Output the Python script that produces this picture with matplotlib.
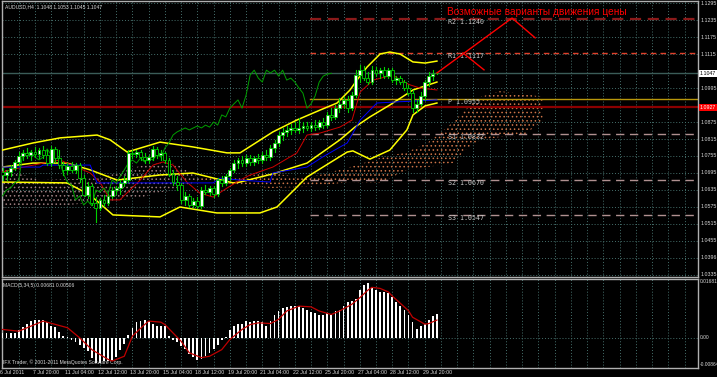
import numpy as np
import matplotlib
matplotlib.use("Agg")
from matplotlib import pyplot as plt

W, H = 717, 377

# ---- price bars (AUDUSD H4) ----
opens = [1.0699, 1.0688, 1.0699, 1.0713, 1.0734, 1.0755, 1.0766, 1.0759, 1.0769, 1.0762,
         1.0776, 1.0759, 1.0730, 1.0780, 1.0748, 1.0723, 1.0706, 1.0720, 1.0706, 1.0723,
         1.0677, 1.0617, 1.0649, 1.0589, 1.0572, 1.0600, 1.0589, 1.0614, 1.0635, 1.0642,
         1.0660, 1.0670, 1.0766, 1.0762, 1.0769, 1.0751, 1.0741, 1.0751, 1.0780, 1.0759,
         1.0766, 1.0741, 1.0692, 1.0663, 1.0653, 1.0600, 1.0614, 1.0582, 1.0596, 1.0579,
         1.0635, 1.0628, 1.0642, 1.0621, 1.0670, 1.0660, 1.0684, 1.0706, 1.0730, 1.0741,
         1.0730, 1.0748, 1.0734, 1.0748, 1.0741, 1.0759, 1.0751, 1.0783, 1.0801, 1.0829,
         1.0840, 1.0847, 1.0854, 1.0847, 1.0854, 1.0861, 1.0854, 1.0864, 1.0857, 1.0875,
         1.0864, 1.0900, 1.0893, 1.0924, 1.0939, 1.0953, 1.0924, 1.0970, 1.1041, 1.1058,
         1.1030, 1.1016, 1.1058, 1.1048, 1.1058, 1.1037, 1.1058, 1.1023, 1.1030, 1.1016,
         1.0995, 1.0977, 1.0924, 1.0939, 1.0967, 1.1016, 1.1037, 1.1048]
highs = [1.0713, 1.0706, 1.0723, 1.0741, 1.0769, 1.0776, 1.0783, 1.0776, 1.0787, 1.0783,
         1.0790, 1.0776, 1.0790, 1.0787, 1.0776, 1.0734, 1.0730, 1.0734, 1.0730, 1.0730,
         1.0688, 1.0663, 1.0656, 1.0610, 1.0607, 1.0617, 1.0621, 1.0646, 1.0649, 1.0670,
         1.0684, 1.0776, 1.0776, 1.0776, 1.0776, 1.0766, 1.0759, 1.0790, 1.0787, 1.0776,
         1.0769, 1.0748, 1.0706, 1.0684, 1.0660, 1.0628, 1.0621, 1.0607, 1.0610, 1.0646,
         1.0653, 1.0649, 1.0649, 1.0677, 1.0684, 1.0692, 1.0713, 1.0741, 1.0748, 1.0755,
         1.0759, 1.0759, 1.0755, 1.0762, 1.0769, 1.0776, 1.0794, 1.0812, 1.0840, 1.0854,
         1.0861, 1.0868, 1.0875, 1.0889, 1.0875, 1.0875, 1.0875, 1.0882, 1.0882, 1.0889,
         1.0910, 1.0924, 1.0935, 1.0960, 1.0963, 1.0967, 1.0981, 1.1058, 1.1076, 1.1073,
         1.1051, 1.1073, 1.1069, 1.1066, 1.1069, 1.1066, 1.1066, 1.1037, 1.1037, 1.1023,
         1.1006, 1.0988, 1.0953, 1.0981, 1.1023, 1.1051, 1.1058, 1.1053]
lows = [1.0670, 1.0670, 1.0684, 1.0706, 1.0723, 1.0741, 1.0748, 1.0741, 1.0751, 1.0748,
        1.0748, 1.0723, 1.0720, 1.0734, 1.0713, 1.0688, 1.0692, 1.0699, 1.0695, 1.0663,
        1.0614, 1.0607, 1.0582, 1.0522, 1.0564, 1.0579, 1.0582, 1.0607, 1.0621, 1.0621,
        1.0649, 1.0663, 1.0748, 1.0751, 1.0741, 1.0730, 1.0730, 1.0741, 1.0748, 1.0741,
        1.0730, 1.0684, 1.0653, 1.0635, 1.0589, 1.0582, 1.0575, 1.0575, 1.0572, 1.0572,
        1.0621, 1.0617, 1.0610, 1.0614, 1.0649, 1.0653, 1.0670, 1.0699, 1.0713, 1.0720,
        1.0720, 1.0723, 1.0723, 1.0730, 1.0730, 1.0741, 1.0741, 1.0769, 1.0790, 1.0812,
        1.0826, 1.0833, 1.0840, 1.0836, 1.0840, 1.0847, 1.0843, 1.0847, 1.0850, 1.0854,
        1.0857, 1.0882, 1.0886, 1.0910, 1.0924, 1.0910, 1.0917, 1.0963, 1.1016, 1.1023,
        1.1009, 1.1009, 1.1037, 1.1030, 1.1030, 1.1030, 1.1016, 1.1009, 1.1009, 1.0988,
        1.0970, 1.0910, 1.0910, 1.0932, 1.0953, 1.1002, 1.1023, 1.1045]
closes = [1.0688, 1.0699, 1.0713, 1.0734, 1.0755, 1.0766, 1.0759, 1.0769, 1.0762, 1.0776,
          1.0759, 1.0730, 1.0780, 1.0748, 1.0723, 1.0706, 1.0720, 1.0706, 1.0723, 1.0677,
          1.0617, 1.0649, 1.0589, 1.0572, 1.0600, 1.0589, 1.0614, 1.0635, 1.0642, 1.0660,
          1.0670, 1.0766, 1.0762, 1.0769, 1.0751, 1.0741, 1.0751, 1.0780, 1.0759, 1.0766,
          1.0741, 1.0692, 1.0663, 1.0653, 1.0600, 1.0614, 1.0582, 1.0596, 1.0579, 1.0635,
          1.0628, 1.0642, 1.0621, 1.0670, 1.0660, 1.0684, 1.0706, 1.0730, 1.0741, 1.0730,
          1.0748, 1.0734, 1.0748, 1.0741, 1.0759, 1.0751, 1.0783, 1.0801, 1.0829, 1.0840,
          1.0847, 1.0854, 1.0847, 1.0854, 1.0861, 1.0854, 1.0864, 1.0857, 1.0875, 1.0864,
          1.0900, 1.0893, 1.0924, 1.0939, 1.0953, 1.0924, 1.0970, 1.1041, 1.1058, 1.1030,
          1.1016, 1.1058, 1.1048, 1.1058, 1.1037, 1.1058, 1.1023, 1.1030, 1.1016, 1.0995,
          1.0977, 1.0924, 1.0939, 1.0967, 1.1016, 1.1037, 1.1044, 1.1047]

# ---- Bollinger bands (sampled: bar position, price) ----
bb_up_x = [0, 7.5, 14.2, 23.3, 26.5, 30.7, 38.8, 46.9, 55.3, 58.5, 66.6, 72.5, 78.2, 82.4,
           85.6, 87.3, 89.8, 93, 95.4, 97.9, 101.1, 104.1, 107]
bb_up = [1.0776, 1.0801, 1.0819, 1.0829, 1.0812, 1.0769, 1.0804, 1.0787, 1.0766, 1.0766,
         1.0840, 1.0882, 1.0917, 1.0942, 1.0988, 1.1023, 1.1069, 1.1115, 1.1122, 1.1115,
         1.1087, 1.1083, 1.1090]
bb_mid_x = [0, 7.5, 15.9, 21.6, 28.2, 38.8, 46.9, 56.8, 58.5, 66.6, 75, 83.1, 86.8, 90.5,
            95.4, 101.1, 107]
bb_mid = [1.0716, 1.0730, 1.0730, 1.0706, 1.0670, 1.0688, 1.0695, 1.0660, 1.0663, 1.0692,
          1.0730, 1.0812, 1.0857, 1.0893, 1.0935, 1.0988, 1.1016]
bb_lo_x = [0, 15.9, 21.6, 27.2, 38.8, 43.7, 52.8, 63.4, 67.6, 75, 84.9, 86.3, 90.5, 95.4,
           99.6, 101.1, 104.1, 107]
bb_lo = [1.0663, 1.0660, 1.0617, 1.0547, 1.0540, 1.0575, 1.0554, 1.0554, 1.0575, 1.0681,
         1.0769, 1.0773, 1.0744, 1.0776, 1.0847, 1.0900, 1.0932, 1.0942]

# ---- Ichimoku ----
tenkan_x = [0, 4.3, 10, 14.2, 15.9, 21.6, 24, 26.5, 28.9, 33.9, 37.1, 39.5, 42, 45.4, 48.6,
            51.9, 55.3, 58.5, 61, 66.6, 72.5, 75, 78.2, 83.1, 86.1, 88.1, 91.3, 96.2, 97.9,
            100.4, 102.8, 107]
tenkan = [1.0699, 1.0713, 1.0730, 1.0741, 1.0730, 1.0695, 1.0663, 1.0600, 1.0600, 1.0670,
          1.0723, 1.0734, 1.0723, 1.0663, 1.0624, 1.0610, 1.0642, 1.0670, 1.0688, 1.0716,
          1.0766, 1.0829, 1.0836, 1.0857, 1.0882, 1.0981, 1.1023, 1.1041, 1.1023, 1.1006,
          1.0995, 1.0988]
kijun_x = [0, 9.2, 10, 21.6, 23.3, 51.9, 53.6, 58.5, 65.9, 66.6, 75, 78.9, 84.9, 86.3, 88.1,
           90.5, 92.2, 97.2, 107]
kijun = [1.0716, 1.0716, 1.0723, 1.0723, 1.0660, 1.0660, 1.0677, 1.0670, 1.0663, 1.0695,
         1.0716, 1.0752, 1.0801, 1.0836, 1.0882, 1.0917, 1.0942, 1.0946, 1.0953]
cloud_x = [0, 2.6, 9.2, 24, 33.9, 37.6, 42.5, 48.6, 58.5, 65.9, 75, 85.6, 93, 99.6, 104.6,
           107.8, 111, 113.9, 117.6, 122.5, 128.2, 131.6, 133.1]
cloud_top = [1.0713, 1.0699, 1.0670, 1.0677, 1.0720, 1.0730, 1.0730, 1.0677, 1.0684, 1.0695,
             1.0677, 1.0716, 1.0748, 1.0769, 1.0801, 1.0836, 1.0875, 1.0917, 1.0963, 1.0984,
             1.0974, 1.0967, 1.0963]
cloud_bot = [1.0572, 1.0572, 1.0572, 1.0593, 1.0607, 1.0624, 1.0635, 1.0670, 1.0653, 1.0642,
             1.0646, 1.0663, 1.0660, 1.0706, 1.0716, 1.0723, 1.0730, 1.0776, 1.0811, 1.0822,
             1.0826, 1.0864, 1.0875]

# ---- MACD(5,34,5) ----
macd = [0.0015, 0.0013, 0.0013, 0.0015, 0.0023, 0.0031, 0.0040, 0.0047, 0.0050, 0.0052,
        0.0052, 0.0044, 0.0034, 0.0031, 0.0018, 0.0006, 0.0002, -0.0006, -0.0011, -0.0020,
        -0.0030, -0.0039, -0.0058, -0.0073, -0.0073, -0.0068, -0.0068, -0.0063, -0.0054, -0.0036,
        -0.0018, 0.0009, 0.0028, 0.0044, 0.0047, 0.0050, 0.0047, 0.0040, 0.0034, 0.0034,
        0.0033, 0.0006, -0.0006, -0.0013, -0.0023, -0.0033, -0.0046, -0.0054, -0.0063, -0.0061,
        -0.0052, -0.0044, -0.0033, -0.0020, -0.0006, 0.0002, 0.0023, 0.0033, 0.0040, 0.0040,
        0.0047, 0.0044, 0.0047, 0.0047, 0.0044, 0.0033, 0.0047, 0.0066, 0.0078, 0.0085,
        0.0088, 0.0092, 0.0092, 0.0092, 0.0085, 0.0080, 0.0073, 0.0071, 0.0066, 0.0066,
        0.0071, 0.0066, 0.0076, 0.0080, 0.0092, 0.0104, 0.0107, 0.0111, 0.0138, 0.0153,
        0.0158, 0.0145, 0.0137, 0.0132, 0.0132, 0.0129, 0.0118, 0.0103, 0.0091, 0.0080,
        0.0065, 0.0046, 0.0025, 0.0034, 0.0039, 0.0051, 0.0062, 0.0068]
sig_x = [0, 4, 10, 16, 19, 22, 26, 27, 30, 32, 35, 36, 39, 40, 44, 46, 49, 51, 54, 56, 59, 61,
         63, 66, 68, 70, 73, 76, 78, 81, 83, 86, 88, 90, 91, 93, 95, 96, 98, 100, 101, 103,
         104, 105, 107]
sig_y = [0.0024, 0.0019, 0.0048, 0.0029, 0.0000, -0.0034, -0.0062, -0.0067, -0.0053, 0.0005,
         0.0038, 0.0048, 0.0045, 0.0038, -0.0010, -0.0043, -0.0057, -0.0053, -0.0034, -0.0005,
         0.0024, 0.0038, 0.0043, 0.0041, 0.0053, 0.0077, 0.0091, 0.0089, 0.0077, 0.0067,
         0.0077, 0.0096, 0.0115, 0.0137, 0.0145, 0.0142, 0.0132, 0.0120, 0.0099, 0.0078,
         0.0059, 0.0046, 0.0039, 0.0041, 0.0051]

# ---- labels / levels ----
time_labels = ["6 Jul 2011", "7 Jul 20:00", "11 Jul 04:00", "12 Jul 12:00", "13 Jul 20:00",
               "15 Jul 04:00", "18 Jul 12:00", "19 Jul 20:00", "21 Jul 04:00", "22 Jul 12:00",
               "25 Jul 20:00", "27 Jul 04:00", "28 Jul 12:00", "29 Jul 20:00"]
price_ticks = [1.1295, 1.1235, 1.1175, 1.1115, 1.0995, 1.0875, 1.0815, 1.0755,
               1.0695, 1.0635, 1.0575, 1.0515, 1.0455, 1.0396, 1.0335]
pivots = {"R2": 1.1240, "R1": 1.1117, "P": 1.0955, "S1": 1.0832, "S2": 1.0670, "S3": 1.0547}
bid = 1.1047
red_level = 1.0927
path1_x = [107, 125.5, 131.2]
path1_y = [1.1048, 1.1242, 1.1172]
path2_x = [113.4, 118.6]
path2_y = [1.1119, 1.1059]

# ---- layout ----
BAR = 4.06
X0 = 2.5
fig = plt.figure(figsize=(W / 100, H / 100), dpi=100, facecolor="black")
plt.rcParams["hatch.linewidth"] = 0.6


def box(x0, y0, x1, y1):
    return [x0 / W, 1 - y1 / H, (x1 - x0) / W, (y1 - y0) / H]


ax = fig.add_axes(box(2, 1, 698, 277))
mx = fig.add_axes(box(2, 279, 698, 368))
xlim = ((2 - X0) / BAR, (698 - X0) / BAR)
gridc = "#46706c"
for a in (ax, mx):
    a.set_facecolor("black")
    a.set_xlim(*xlim)
    a.set_xticks([])
    a.set_yticks([])
    for s in a.spines.values():
        s.set_color("#b0b0b0")
        s.set_linewidth(1)
    for gx in np.arange(4, 172, 4):
        a.axvline(gx, color=gridc, lw=0.7, ls=(0, (1, 2)), zorder=0)

ax.set_ylim(1.03279, 1.13021)
mx.set_ylim(-0.00868, 0.0169)
for p in price_ticks:
    ax.axhline(p, color=gridc, lw=0.7, ls=(0, (1, 2)), zorder=0)
mx.axhline(0.0, color=gridc, lw=0.7, ls=(0, (1, 2)), zorder=0)

n = len(closes)
idx = np.arange(n)

# cloud (dotted hatch)
cx = np.array(cloud_x)
ctop = np.array(cloud_top)
cbot = np.array(cloud_bot)
m1 = cx <= 48.6
m2 = cx >= 48.6
ax.fill_between(cx[m1], cbot[m1], ctop[m1], facecolor="none", edgecolor="#9c7c7e",
                hatch="....", lw=0, zorder=1)
ax.fill_between(cx[m2], cbot[m2], ctop[m2], facecolor="none", edgecolor="#cc7448",
                hatch="....", lw=0, zorder=1)

# level lines
ax.axhline(bid, color="#3b5c58", lw=1.0, zorder=1)
ax.axhline(red_level, color="#8b0000", lw=1.6, zorder=1)
pstart = 75.7
pstyle = {"R2": ("#8b1a1a", 1.6, (0, (5, 3))), "R1": ("#e0402a", 1.0, (0, (4, 3))),
          "P": ("#b8960b", 1.0, "-"), "S1": ("#b09090", 1.0, (0, (6, 4))),
          "S2": ("#b09090", 1.0, (0, (6, 4))), "S3": ("#b09090", 1.0, (0, (6, 4)))}
for k, v in pivots.items():
    c, lw, ls = pstyle[k]
    ax.plot([pstart, xlim[1]], [v, v], color=c, lw=lw, ls=ls, zorder=2)
    ax.text(pstart + 34, v, f"{k} {v:.4f}", color="#c8c8c8", fontsize=4.8,
            family="DejaVu Sans Mono", va="top", ha="left", zorder=6)

# indicator lines
ax.plot(bb_up_x, bb_up, color="#ffff00", lw=1.1, zorder=3)
ax.plot(bb_mid_x, bb_mid, color="#ffff00", lw=1.1, zorder=3)
ax.plot(bb_lo_x, bb_lo, color="#ffff00", lw=1.1, zorder=3)
ax.plot(tenkan_x, tenkan, color="#d00000", lw=0.7, zorder=3)
ax.plot(kijun_x, kijun, color="#0000ff", lw=0.7, zorder=3)
ax.plot(idx[:n - 26], closes[26:], color="#00a000", lw=0.7, zorder=3)

# candles
for i in range(n):
    o, h, l, c = opens[i], highs[i], lows[i], closes[i]
    ax.plot([i, i], [l, h], color="#00d000", lw=0.8, zorder=4)
    up = c >= o
    ax.bar(i, max(abs(c - o), 0.00008), bottom=min(o, c), width=0.7,
           color="white" if up else "black", edgecolor="#00d000", lw=0.6, zorder=5)

# hand-drawn scenario lines
ax.plot(path1_x, path1_y, color="red", lw=1.0, zorder=6)
ax.plot(path2_x, path2_y, color="red", lw=1.0, zorder=6)
ax.text(109.5, 1.1265, "Возможные варианты движения цены", color="red", fontsize=7.3,
        family="Liberation Sans", va="center", ha="left", zorder=7)

# MACD
mx.bar(idx, macd, width=0.45, color="white", zorder=3)
mx.plot(sig_x, sig_y, color="#c00000", lw=0.9, zorder=4)

# texts
tf = dict(family="Liberation Sans", color="#d8d8d8")
ax.text(0.004, 0.988, "AUDUSD,H4  1.1048 1.1053 1.1045 1.1047", fontsize=3.6,
        transform=ax.transAxes, va="top", **tf)
mx.text(0.002, 0.95, "MACD(5,34,5) 0.00681 0.00506", fontsize=3.6,
        transform=mx.transAxes, va="top", **tf)
mx.text(0.002, 0.03, "IFX Trader, \u00a9 2001-2011 MetaQuotes Software Corp.", fontsize=3.6,
        transform=mx.transAxes, va="bottom", **tf)
ry = ax.get_yaxis_transform()
for p in price_ticks:
    ax.text(1.003, p, f"{p:.4f}", fontsize=3.8, transform=ry, va="center", ha="left",
            clip_on=False, **tf)
ax.text(1.0025, bid, f"{bid:.4f}", color="black", fontsize=3.8, transform=ry, family="Liberation Sans",
        va="center", ha="left", clip_on=False, bbox=dict(fc="white", ec="none", pad=0.8))
ax.text(1.0025, red_level, f"{red_level:.4f}", color="white", fontsize=3.8, transform=ry,
        family="Liberation Sans", va="center", ha="left", clip_on=False,
        bbox=dict(fc="red", ec="none", pad=0.8))
my = mx.get_yaxis_transform()
for v, t in ((0.0161, "0.01681"), (0.0, "0.00"), (-0.0078, "-0.00864")):
    mx.text(1.002, v, t, fontsize=3.5, transform=my, va="center", ha="left", clip_on=False, **tf)
for k, t in enumerate(time_labels):
    mx.text(k * 8 - 0.5 if k else -0.6, -0.0092, t, fontsize=3.8, va="top", ha="left",
            clip_on=False, **tf)

fig.savefig("out.png", dpi=100, facecolor="black")
